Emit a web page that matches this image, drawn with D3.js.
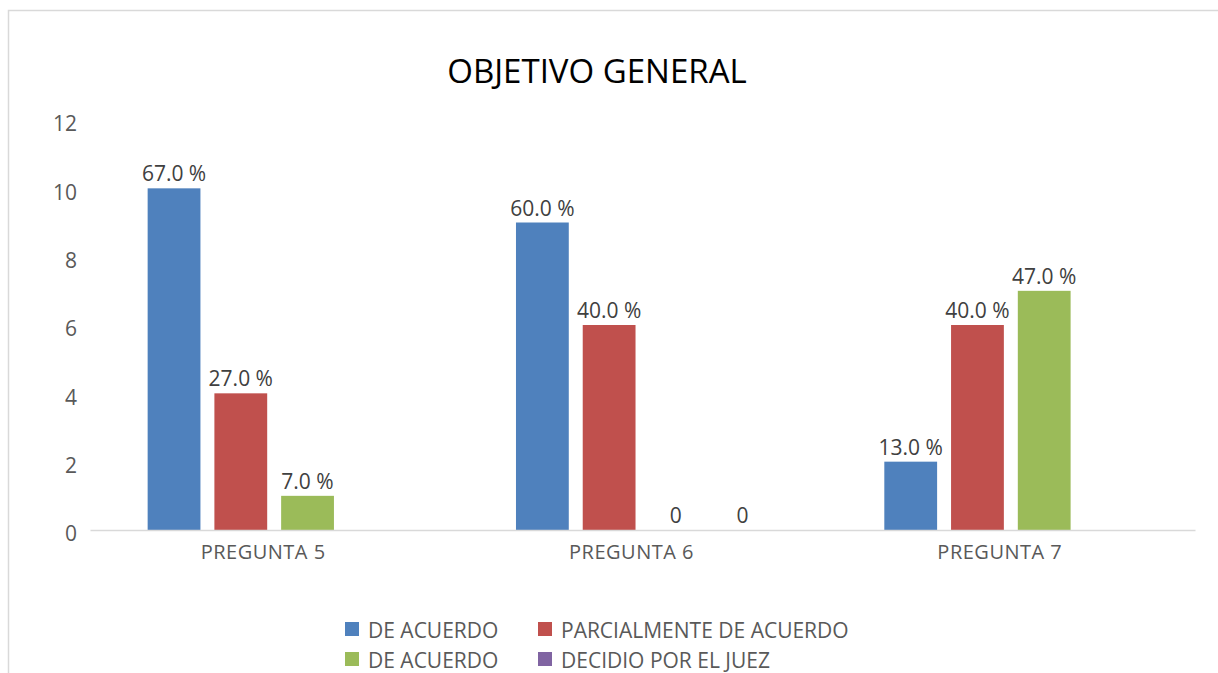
<!DOCTYPE html>
<html>
<head>
<meta charset="utf-8">
<script src="https://cdn.jsdelivr.net/npm/d3@7"></script>
<style>
  body { margin: 0; background: #fff; }
  text { font-family: "Open Sans", sans-serif; }
</style>
</head>
<body>
<div class="bar-chart"></div>
<script>
const categories = ["PREGUNTA 5", "PREGUNTA 6", "PREGUNTA 7"]
const seriesNames = ["DE ACUERDO", "PARCIALMENTE DE ACUERDO", "DE ACUERDO", "DECIDIO POR EL JUEZ"]
const seriesColors = ["#4F81BD", "#C0504D", "#9BBB59", "#8064A2"]
// bar heights per series (null = no bar / no label)
const deAcuerdo = [10, 9, 2]
const parcialmente = [4, 6, 6]
const deAcuerdo2 = [1, 0, 7]
const decidido = [null, 0, null]
// data labels shown over the bars
const labelsDeAcuerdo = ["67.0 %", "60.0 %", "13.0 %"]
const labelsParcialmente = ["27.0 %", "40.0 %", "40.0 %"]
const labelsDeAcuerdo2 = ["7.0 %", "0", "47.0 %"]
const labelsDecidido = [null, "0", null]
const yTicks = [0, 2, 4, 6, 8, 10, 12]

const values = [deAcuerdo, parcialmente, deAcuerdo2, decidido]
const labels = [labelsDeAcuerdo, labelsParcialmente, labelsDeAcuerdo2, labelsDecidido]

const W = 1218, H = 673
const margin = { top: 120, right: 23, bottom: 143, left: 90 }
const width = W - margin.left - margin.right
const height = H - margin.top - margin.bottom

const svg = d3.select(".bar-chart")
    .append("svg")
    .attr("width", W)
    .attr("height", H)

// chart frame (runs off the right and bottom edge)
svg.append("rect")
    .attr("x", 8.5).attr("y", 10.5)
    .attr("width", 1300).attr("height", 800)
    .attr("fill", "none")
    .attr("stroke", "#d9d9d9")
    .attr("stroke-width", 1.5)

svg.append("text")
    .attr("x", 597).attr("y", 83)
    .attr("text-anchor", "middle")
    .attr("font-size", 33)
    .attr("fill", "#000")
    .text("OBJETIVO GENERAL")

const g = svg.append("g")
    .attr("transform", `translate(${margin.left},${margin.top})`)

const x0 = d3.scaleBand()
    .domain(categories)
    .range([0, width])
    .paddingInner(0.313)
    .paddingOuter(0.1565)

const x1 = d3.scaleBand()
    .domain(d3.range(seriesNames.length))
    .range([0, x0.bandwidth()])
    .paddingInner(0.209)

const y = d3.scaleLinear()
    .domain([0, 12])
    .range([height, 0])

// y axis labels only
const yAxis = d3.axisLeft(y).tickValues(yTicks).tickSize(0).tickPadding(13)
const yAxisGroup = g.append("g").attr("class", "axis y-axis").call(yAxis)
yAxisGroup.select(".domain").remove()
yAxisGroup.selectAll("text")
    .attr("y", 4)
    .attr("font-size", 21)
    .attr("fill", "#595959")
    .attr("font-family", "Open Sans, sans-serif")

// bars
const rows = []
categories.forEach((c, i) => {
    values.forEach((s, k) => {
        rows.push({ cat: c, k: k, v: s[i], label: labels[k][i] })
    })
})

const groups = g.selectAll(".cat")
    .data(categories)
    .enter().append("g")
    .attr("class", "cat")
    .attr("transform", d => `translate(${x0(d)},0)`)

groups.selectAll("rect")
    .data(c => rows.filter(r => r.cat === c && r.v != null && r.v > 0))
    .enter().append("rect")
    .attr("x", d => x1(d.k))
    .attr("y", d => y(d.v))
    .attr("width", x1.bandwidth())
    .attr("height", d => y(0) - y(d.v))
    .attr("fill", d => seriesColors[d.k])

groups.selectAll(".lbl")
    .data(c => rows.filter(r => r.cat === c && r.label != null))
    .enter().append("text")
    .attr("class", "lbl")
    .attr("x", d => x1(d.k) + x1.bandwidth() / 2)
    .attr("y", d => y(d.v) - 7)
    .attr("text-anchor", "middle")
    .attr("font-size", 21)
    .attr("fill", "#404040")
    .text(d => d.label)

// x axis
const xAxis = d3.axisBottom(x0).tickSize(0).tickPadding(15)
const xAxisGroup = g.append("g")
    .attr("class", "axis x-axis")
    .attr("transform", `translate(0,${height})`)
    .call(xAxis)
xAxisGroup.select(".domain").attr("stroke", "#d9d9d9").attr("stroke-width", 1.5)
xAxisGroup.selectAll("text")
    .attr("x", -11)
    .attr("font-size", 20)
    .attr("letter-spacing", 0.5)
    .attr("fill", "#595959")
    .attr("font-family", "Open Sans, sans-serif")

// legend, two rows of two
const legendPos = [[345, 632], [538, 632], [345, 662], [538, 662]]
const legend = svg.append("g").attr("class", "legend")
seriesNames.forEach((n, k) => {
    const item = legend.append("g")
        .attr("transform", `translate(${legendPos[k][0]},${legendPos[k][1]})`)
    item.append("rect")
        .attr("x", 0).attr("y", -10)
        .attr("width", 14).attr("height", 14)
        .attr("fill", seriesColors[k])
    item.append("text")
        .attr("x", 23).attr("y", 0)
        .attr("dominant-baseline", "middle")
        .attr("font-size", 21)
        .attr("fill", "#595959")
        .text(n)
})
</script>
</body>
</html>
